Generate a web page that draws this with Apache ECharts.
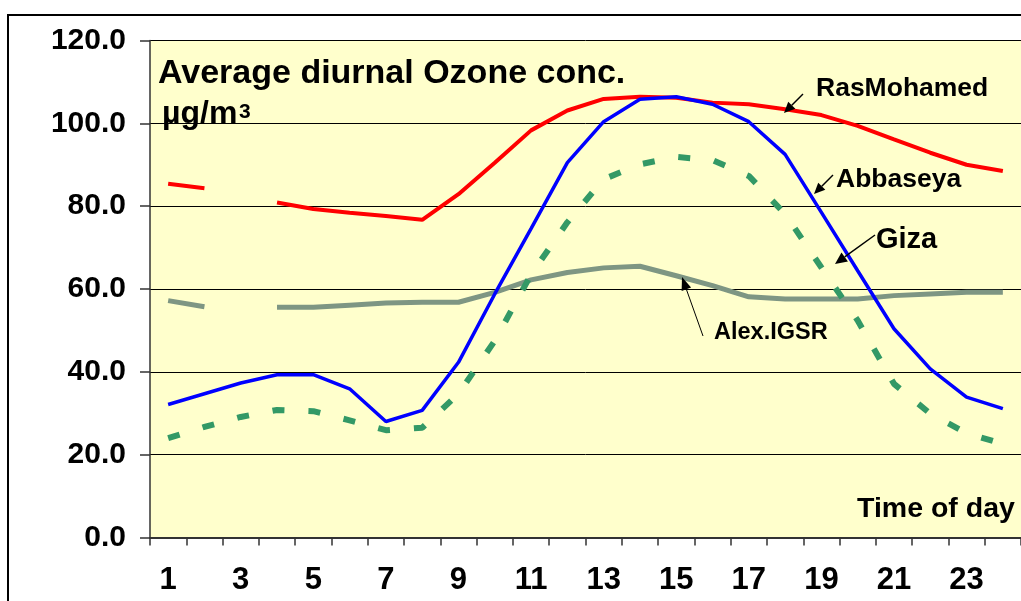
<!DOCTYPE html>
<html><head><meta charset="utf-8">
<script src="https://cdn.jsdelivr.net/npm/echarts@6/dist/echarts.min.js"></script>
<style>html,body{margin:0;padding:0;background:#fff}#c{width:1021px;height:601px}</style>
</head><body><div id="c"></div>
<script>
// ---- data ----
const hours = ['1','2','3','4','5','6','7','8','9','10','11','12','13','14','15','16','17','18','19','20','21','22','23','24'];
const rasMohamed = [85.4,84.3,null,80.9,79.3,78.4,77.6,76.7,82.9,90.5,98.3,103.1,105.9,106.4,106.2,105.0,104.6,103.4,102.0,99.4,96.1,92.9,90.0,88.5];
const abbaseya   = [32.1,34.7,37.3,39.3,39.3,35.9,28.0,30.7,42.3,58.8,74.6,90.5,100.4,105.8,106.4,104.6,100.4,92.5,78.5,64.4,50.4,40.7,33.9,31.1];
const giza       = [24.0,26.7,29.1,30.8,30.5,28.3,25.9,26.5,34.7,47.5,63.5,76.1,86.5,90.1,91.9,91.1,87.3,78.1,65.2,52.4,37.1,29.9,25.2,22.6];
const alexIGSR   = [57.2,55.7,null,55.6,55.6,56.1,56.6,56.8,56.8,59.2,62.2,64.0,65.1,65.5,63.2,60.8,58.1,57.6,57.6,57.6,58.4,58.8,59.2,59.2];
const yMin = 0, yMax = 120, yStep = 20;
const titleText = 'Average diurnal Ozone conc.';
const unitText = 'µg/m';
const unitSup = '3';
const xTitle = 'Time of day';

const FONT = '"Liberation Sans", Arial, sans-serif';
const chart = echarts.init(document.getElementById('c'), null, {renderer: 'canvas'});

function arrow(x1, y1, x2, y2, w, hl, hw) {
  const dx = x2 - x1, dy = y2 - y1, L = Math.hypot(dx, dy);
  const ux = dx / L, uy = dy / L;
  const bx = x2 - ux * hl, by = y2 - uy * hl;
  const px = -uy * hw / 2, py = ux * hw / 2;
  return [
    {type: 'line', z: 100, shape: {x1: x1, y1: y1, x2: bx, y2: by}, style: {stroke: '#000', lineWidth: w}},
    {type: 'polygon', z: 100, shape: {points: [[x2, y2], [bx + px, by + py], [bx - px, by - py]]}, style: {fill: '#000'}}
  ];
}
function label(text, x, y, size, extra) {
  return Object.assign({type: 'text', z: 100, x: x, y: y,
    style: {text: text, font: 'bold ' + size + 'px ' + FONT, fill: '#000', textAlign: 'left', textVerticalAlign: 'middle'}}, extra || {});
}

const graphics = [
  {type: 'rect', z: 0, shape: {x: 8, y: 15, width: 1200, height: 800}, style: {fill: 'none', stroke: '#000', lineWidth: 2}},
  label(titleText, 158, 74, 34),
  label(unitText, 162, 114, 32),
  label(unitSup, 239, 112, 21),
  label('RasMohamed', 816, 89, 26.5),
  label('Abbaseya', 836, 180, 26.5),
  label('Giza', 876, 240, 29),
  label('Alex.IGSR', 714, 333, 23.5),
  label(xTitle, 857, 509, 28.5),
  ...arrow(803, 94, 784, 113, 1.5, 11, 10),
  ...arrow(833, 175, 814, 194, 1.5, 11, 10),
  ...arrow(875, 235, 835, 264, 1.5, 12, 11),
  ...arrow(703, 336, 682, 277, 1, 13, 10)
];

const axisColor = '#333';
chart.setOption({
  animation: false,
  backgroundColor: '#fff',
  grid: {left: 150, top: 40.5, width: 883, height: 497, show: true, backgroundColor: '#FFFFCC', borderWidth: 0},
  xAxis: {
    type: 'category', data: hours, boundaryGap: true,
    axisLine: {show: true, lineStyle: {color: axisColor, width: 2}},
    axisTick: {show: true, interval: 0, length: 8, lineStyle: {color: axisColor, width: 1.5}},
    axisLabel: {interval: 1, margin: 43, verticalAlign: 'middle', color: '#000', fontSize: 31, fontWeight: 'bold', fontFamily: FONT},
    splitLine: {show: false}
  },
  yAxis: {
    type: 'value', min: yMin, max: yMax, interval: yStep,
    axisLine: {show: true, lineStyle: {color: axisColor, width: 1.5}},
    axisTick: {show: true, length: 10, lineStyle: {color: axisColor, width: 1.5}},
    axisLabel: {margin: 24, color: '#000', fontSize: 30, fontWeight: 'bold', fontFamily: FONT, formatter: v => v.toFixed(1)},
    splitLine: {show: true, lineStyle: {color: '#000', width: 1}}
  },
  series: [
    {name: 'Alex.IGSR', type: 'line', data: alexIGSR, showSymbol: false, connectNulls: false,
     lineStyle: {color: '#7E9683', width: 5}},
    {name: 'Giza', type: 'line', data: giza, showSymbol: false,
     lineStyle: {color: '#339966', width: 6, type: [12, 24], cap: 'butt'}},
    {name: 'RasMohamed', type: 'line', data: rasMohamed, showSymbol: false, connectNulls: false,
     lineStyle: {color: '#FF0000', width: 4}},
    {name: 'Abbaseya', type: 'line', data: abbaseya, showSymbol: false,
     lineStyle: {color: '#0000FF', width: 3.5}}
  ],
  graphic: graphics
});
</script></body></html>
